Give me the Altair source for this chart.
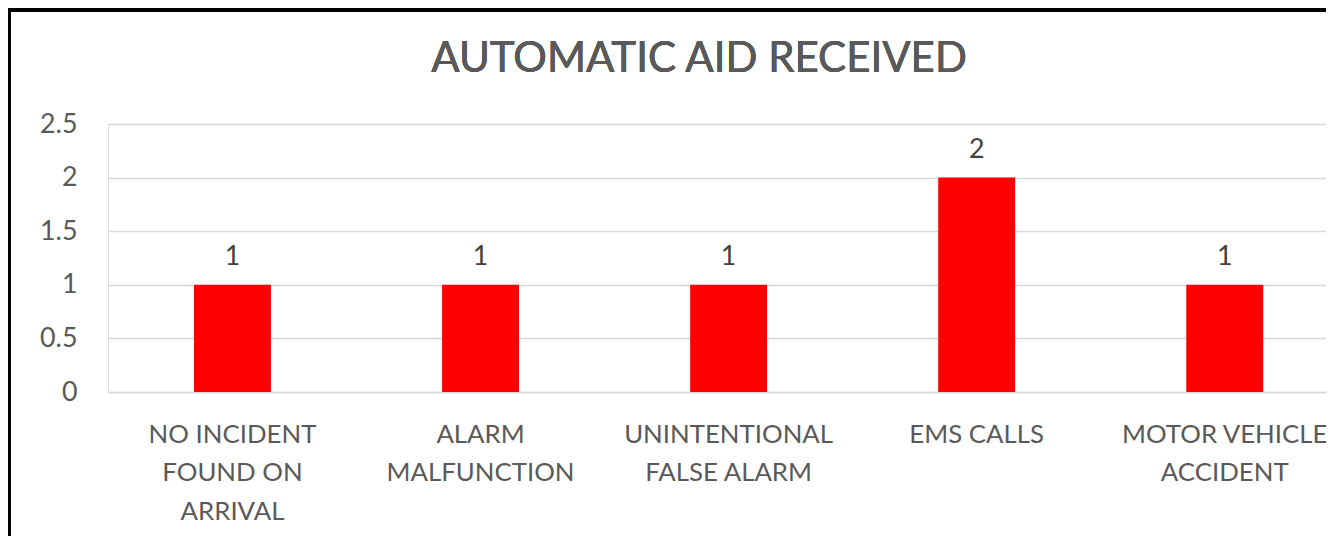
import altair as alt
import pandas as pd

categories = [
    "NO INCIDENT\nFOUND ON\nARRIVAL",
    "ALARM\nMALFUNCTION",
    "UNINTENTIONAL\nFALSE ALARM",
    "EMS CALLS",
    "MOTOR VEHICLE\nACCIDENT",
]
values = [1, 1, 1, 2, 1]
y_ticks = [0, 0.5, 1, 1.5, 2, 2.5]
title_text = "AUTOMATIC AID RECEIVED"

df = pd.DataFrame({"category": categories, "value": values})

FONT = "Lato"
W, H = 1218, 268

x_enc = alt.X(
    "category:N",
    sort=categories,
    scale=alt.Scale(paddingInner=0.69, paddingOuter=0.3, align=0.578),
    axis=alt.Axis(
        title=None,
        labelAngle=0,
        labelExpr="split(datum.value, '\\n')",
        labelFont=FONT,
        labelFontSize=25.8,
        labelColor="#595959",
        labelLineHeight=38.7,
        labelPadding=30,
        ticks=False,
        domain=True,
        domainColor="#d9d9d9",
        domainWidth=1.3,
        grid=False,
        labelLimit=400,
    ),
)

y_enc = alt.Y(
    "value:Q",
    scale=alt.Scale(domain=[0, 2.5], nice=False),
    axis=alt.Axis(
        title=None,
        values=y_ticks,
        format="~g",
        labelFont=FONT,
        labelFontSize=26.8,
        labelColor="#595959",
        labelPadding=31,
        ticks=False,
        domain=False,
        grid=True,
        gridColor="#d9d9d9",
        gridWidth=1.3,
    ),
)

base = alt.Chart(df)

bars = base.mark_bar(color="#ff0000").encode(x=x_enc, y=y_enc)

labels = base.mark_text(
    font=FONT, fontSize=26.8, color="#404040", baseline="alphabetic", dy=-20
).encode(x=alt.X("category:N", sort=categories), y="value:Q", text="value:Q")

title_mark = base.mark_text(
    font=FONT, fontSize=42, color="#595959", baseline="alphabetic", align="center"
).encode(x=alt.value(591), y=alt.value(-52), text=alt.value(title_text))

border_left = base.mark_rule(color="black", strokeWidth=3).encode(
    x=alt.value(-98.5), y=alt.value(-116), y2=alt.value(420)
)
border_top = base.mark_rule(color="black", strokeWidth=4).encode(
    x=alt.value(-100), x2=alt.value(W + 10), y=alt.value(-114)
)

chart = (
    alt.layer(bars, labels, title_mark, border_left, border_top)
    .properties(
        width=W,
        height=H,
        autosize=alt.AutoSizeParams(type="none"),
        padding={"left": 100, "top": 116, "right": 0, "bottom": 144},
    )
    .configure_view(stroke=None)
    .configure(background="white")
)

chart.save("out.html", embed_options={"renderer": "svg", "actions": False})
